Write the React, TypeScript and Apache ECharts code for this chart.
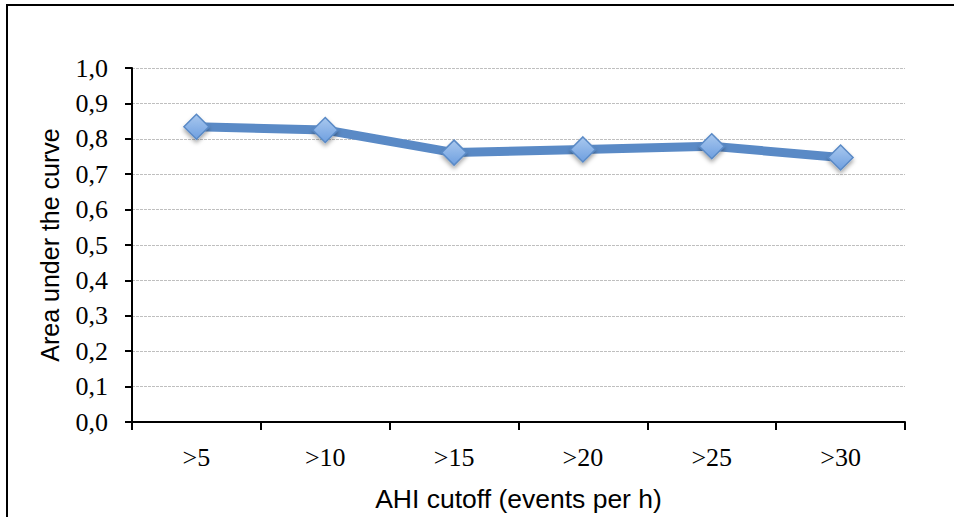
import React, { useEffect, useRef } from "react";
import * as echarts from "echarts";

const categories = [">5", ">10", ">15", ">20", ">25", ">30"];
const aucValues = [0.834, 0.825, 0.761, 0.77, 0.779, 0.747];
const xTitle = "AHI cutoff (events per h)";
const yTitle = "Area under the curve";

export default function App() {
  const ref = useRef<HTMLDivElement>(null);
  useEffect(() => {
    if (!ref.current) return;
    const chart = echarts.init(ref.current, null, { renderer: "svg" });
    chart.setOption({
      animation: false,
      backgroundColor: "#ffffff",
      graphic: [
        {
          type: "rect",
          shape: { x: 7, y: 5, width: 1000, height: 1000 },
          style: { fill: "none", stroke: "#000", lineWidth: 2 },
          silent: true,
        },
      ],
      grid: { left: 132, right: 49, top: 68, bottom: 95, containLabel: false },
      xAxis: {
        type: "category",
        data: categories,
        boundaryGap: true,
        name: xTitle,
        nameLocation: "middle",
        nameGap: 63,
        nameTextStyle: { fontFamily: "Liberation Sans", fontSize: 26.5, color: "#000" },
        axisLine: { lineStyle: { color: "#000", width: 2 } },
        axisTick: { show: true, length: 8, inside: false, lineStyle: { color: "#000", width: 2 } },
        axisLabel: { fontFamily: "Liberation Serif", fontSize: 26, color: "#000", margin: 22 },
        splitLine: { show: false },
      },
      yAxis: {
        type: "value",
        min: 0,
        max: 1,
        interval: 0.1,
        name: yTitle,
        nameLocation: "middle",
        nameGap: 70,
        nameRotate: 90,
        nameTextStyle: { fontFamily: "Liberation Sans", fontSize: 25, color: "#000" },
        axisLine: { show: true, lineStyle: { color: "#000", width: 2 } },
        axisTick: { show: true, length: 7, inside: false, lineStyle: { color: "#000", width: 2 } },
        axisLabel: {
          fontFamily: "Liberation Serif",
          fontSize: 26,
          color: "#000",
          margin: 24,
          formatter: (v: number) => v.toFixed(1).replace(".", ","),
        },
        splitLine: { show: true, lineStyle: { color: "#bfbfbf", type: [3, 1], width: 1 } },
      },
      series: [
        {
          type: "line",
          data: aucValues,
          symbol: "diamond",
          symbolSize: 25,
          lineStyle: { color: "#5a8ac6", width: 9 },
          itemStyle: {
            color: new echarts.graphic.LinearGradient(0, 0, 0, 1, [
              { offset: 0, color: "#a9c8ee" },
              { offset: 1, color: "#6e9fe0" },
            ]),
            borderColor: "#5a8ac6",
            borderWidth: 1.5,
            shadowColor: "rgba(0,0,0,0.35)",
            shadowBlur: 4,
            shadowOffsetY: 3,
          },
        },
      ],
    });
    return () => chart.dispose();
  }, []);
  return (
    <div
      ref={ref}
      style={{ position: "absolute", left: 0, top: 0, width: 954, height: 517 }}
    />
  );
}
